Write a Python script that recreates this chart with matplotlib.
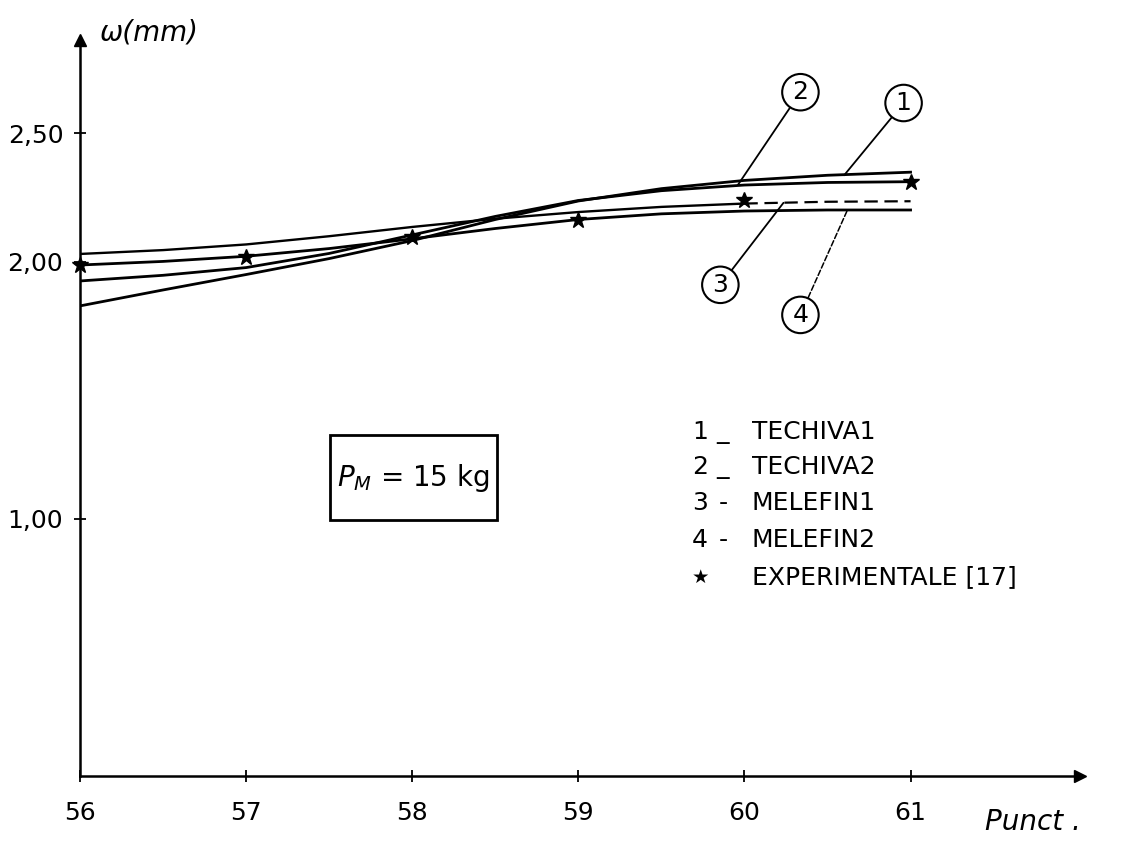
import matplotlib
matplotlib.use("Agg")
import matplotlib.pyplot as plt
from matplotlib.patches import Rectangle

# puncte de masura si sagetile w (mm)
puncte = [56, 56.5, 57, 57.5, 58, 58.5, 59, 59.5, 60, 60.5, 61]
techiva1 = [1.828, 1.890, 1.950, 2.012, 2.082, 2.164, 2.236, 2.284, 2.316, 2.336, 2.348]
techiva2 = [1.925, 1.947, 1.977, 2.032, 2.104, 2.176, 2.238, 2.276, 2.298, 2.308, 2.311]
melefin1 = [2.030, 2.045, 2.067, 2.099, 2.135, 2.167, 2.193, 2.213, 2.226, 2.233, 2.235]
melefin2 = [1.987, 2.001, 2.021, 2.051, 2.089, 2.129, 2.164, 2.186, 2.197, 2.201, 2.201]

# valori experimentale [17]
puncte_exp = [56, 57, 58, 59, 60, 61]
w_exp = [1.987, 2.018, 2.096, 2.162, 2.240, 2.310]

# axe
x_ticks = [56, 57, 58, 59, 60, 61]
y_ticks = [1.00, 2.00, 2.50]
y_labels = ["1,00", "2,00", "2,50"]

# legenda
leg_nr = ["1", "2", "3", "4", "\u2605"]
leg_sep = ["_", "_", "-", "-", ""]
leg_nume = ["TECHIVA1", "TECHIVA2", "MELEFIN1", "MELEFIN2", "EXPERIMENTALE [17]"]

plt.rcParams['font.family'] = ['DejaVu Sans']

fig = plt.figure(figsize=(11.24, 8.41), dpi=100)
ax = fig.add_axes([80 / 1124, 65 / 841, 1000 / 1124, 736 / 841])

lw = 2.0
ax.plot(puncte, techiva1, color='black', lw=lw)
ax.plot(puncte, techiva2, color='black', lw=lw)
# melefin1 devine intrerupta spre capat
ax.plot(puncte[:9], melefin1[:9], color='black', lw=1.7)
ax.plot(puncte[8:], melefin1[8:], color='black', lw=1.6, ls=(0, (6, 3)))
ax.plot(puncte, melefin2, color='black', lw=lw)
ax.plot(puncte_exp, w_exp, ls='none', marker='*', ms=12, color='black', clip_on=False)

ax.set_xlim(56, 62.02)
ax.set_ylim(0, 2.862)

# axe cu sageti
for s in ['top', 'right']:
    ax.spines[s].set_visible(False)
ax.spines['left'].set_linewidth(1.8)
ax.spines['bottom'].set_linewidth(1.8)
ax.plot(1, 0, '>k', ms=8, transform=ax.transAxes, clip_on=False)
ax.plot(0, 1, '^k', ms=8, transform=ax.transAxes, clip_on=False)

ax.set_xticks(x_ticks)
ax.set_xticklabels([str(t) for t in x_ticks])
ax.set_yticks(y_ticks)
ax.set_yticklabels(y_labels)
ax.tick_params(direction='inout', length=8, width=1.3, labelsize=18, colors='black')
ax.tick_params(axis='x', pad=14)
ax.tick_params(axis='y', pad=8)

fig.text(100 / 1124, 1 - 33 / 841, "\u03c9(mm)", fontsize=20, style='italic', va='center')
fig.text(985 / 1124, 1 - 822 / 841, "Punct .", fontsize=20, style='italic', va='center')

# etichete in cerc pentru curbe
cerc = dict(boxstyle='circle,pad=0.25', fc='white', ec='black', lw=1.5)
ax.annotate("1", xy=(60.6, 2.336), xytext=(60.958, 2.617), fontsize=18, ha='center', va='center',
            bbox=cerc, arrowprops=dict(arrowstyle='-', color='black', lw=1.3, shrinkA=0, shrinkB=0))
ax.annotate("2", xy=(59.96, 2.298), xytext=(60.337, 2.659), fontsize=18, ha='center', va='center',
            bbox=cerc, arrowprops=dict(arrowstyle='-', color='black', lw=1.3, shrinkA=0, shrinkB=0))
ax.annotate("3", xy=(60.235, 2.229), xytext=(59.855, 1.910), fontsize=18, ha='center', va='center',
            bbox=cerc, arrowprops=dict(arrowstyle='-', color='black', lw=1.3, shrinkA=0, shrinkB=0))
ax.annotate("4", xy=(60.62, 2.201), xytext=(60.337, 1.793), fontsize=18, ha='center', va='center',
            bbox=cerc, arrowprops=dict(arrowstyle='-', color='black', lw=1.1, ls='--',
                                       shrinkA=0, shrinkB=0))

# caseta cu masa
fig.patches.append(Rectangle((330 / 1124, 1 - 520 / 841), 167 / 1124, 85 / 841,
                             transform=fig.transFigure, fill=False, ec='black', lw=2))
fig.text(413 / 1124, 1 - 478 / 841, "$P_M$ = 15 kg", fontsize=20, ha='center', va='center')

# legenda scrisa de mana
rand_y = [432, 467, 503, 540, 577]
for nr, sep, nume, yy in zip(leg_nr, leg_sep, leg_nume, rand_y):
    fy = 1 - yy / 841
    fig.text(700 / 1124, fy, nr, fontsize=18 if nr != "\u2605" else 14, ha='center', va='center')
    fig.text(723 / 1124, fy, sep, fontsize=18, ha='center', va='center')
    fig.text(752 / 1124, fy, nume, fontsize=18, ha='left', va='center')

fig.savefig("out.png", dpi=100)
